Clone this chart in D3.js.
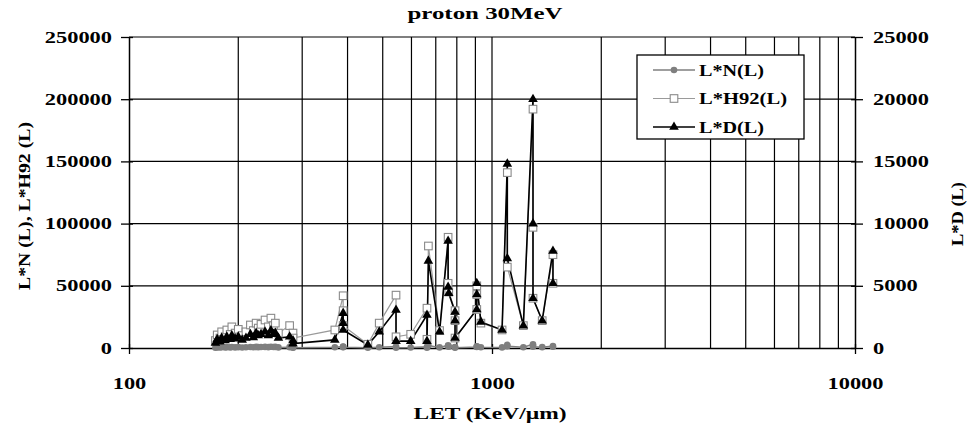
<!DOCTYPE html>
<html><head><meta charset="utf-8">
<script src="https://cdn.jsdelivr.net/npm/d3@7/dist/d3.min.js"></script>
<style>body{margin:0;background:#fff}svg text{font-family:"Liberation Serif",serif !important;font-weight:bold}</style>
</head><body><svg id="c" width="970" height="426"></svg>
<script>
const letVals = [173,175,178,180,184,186,190,192,196,200,205,210,216,220,224,227,231,237,242,246,250,253,258,277,283,283,369,389,389,389,455,489,544,544,597,662,662,668,717,757,757,760,791,791,791,908,908,908,932,1066,1102,1102,1220,1297,1297,1297,1375,1472,1472];
const nVals = [300,500,400,600,400,700,500,800,500,700,400,600,800,600,900,700,800,900,700,1000,800,900,500,700,500,300,600,1200,900,700,200,600,1200,300,400,900,300,2000,500,2200,1400,1100,800,600,300,800,1100,1300,600,500,2500,1500,600,3000,2000,1000,700,1500,1000];
const h92Vals = [6000,10500,8000,13000,9000,14500,11000,17000,12000,15000,10000,13000,18500,14000,20000,16000,19000,22500,17000,24000,18000,20000,12000,18000,12000,8000,14500,42000,30000,18000,3000,20000,42500,9000,11000,32000,7000,82000,14000,89000,52000,45000,30000,22000,8000,31000,43000,50000,20000,14500,141000,65000,18000,192000,97000,40000,22000,75000,52000];
const dVals = [400,700,500,800,600,900,700,1000,750,900,650,800,1100,850,1200,1000,1100,1300,1000,1400,1100,1200,800,900,600,350,650,2800,2000,1450,250,1300,3050,550,550,2650,550,7000,1300,8600,4900,4400,2900,2200,800,3100,4300,5200,2100,1450,14800,7200,1800,20000,10000,4000,2200,7800,5200];
const leftTicks = [0,50000,100000,150000,200000,250000];
const rightTicks = [0,5000,10000,15000,20000,25000];
const xTicks = [100,1000,10000];
const xGrid = [200,300,400,500,600,700,800,900,1000,2000,3000,4000,5000,6000,7000,8000,9000];
const legendLabels = ["L*N(L)","L*H92(L)","L*D(L)"];

const svg = d3.select("#c");
const L=129,R=855,T=37,B=348;
const x = d3.scaleLog().domain([100,10000]).range([L,R]);
const yL = d3.scaleLinear().domain([0,250000]).range([B,T]);
const yR = d3.scaleLinear().domain([0,25000]).range([B,T]);

function styleText(sel, size){
  sel.attr("font-size",size).attr("fill","#000")
     .style("font-family","'Liberation Serif', serif").style("font-weight","bold");
}
function stretch(sel, factor){
  sel.each(function(){
    const w = this.getComputedTextLength();
    d3.select(this).attr("textLength", w*factor).attr("lengthAdjust","spacingAndGlyphs");
  });
}
function fitTo(sel, len){
  sel.attr("textLength", len).attr("lengthAdjust","spacingAndGlyphs");
}

// gridlines
svg.append("g").selectAll("line").data(xGrid).join("line")
  .attr("x1",d=>x(d)).attr("x2",d=>x(d)).attr("y1",T).attr("y2",B)
  .attr("stroke","#000").attr("stroke-width",1.2);
svg.append("g").selectAll("line").data(leftTicks.filter(d=>d>0)).join("line")
  .attr("x1",L).attr("x2",R).attr("y1",d=>yL(d)).attr("y2",d=>yL(d))
  .attr("stroke","#000").attr("stroke-width",1.2);

// axes
const axL = svg.append("g").attr("transform",`translate(${L},0)`)
  .call(d3.axisLeft(yL).tickValues(leftTicks).tickFormat(d3.format("d")).tickSizeInner(8).tickSizeOuter(0).tickPadding(9));
axL.selectAll(".tick line").attr("x1",4);
const axR = svg.append("g").attr("transform",`translate(${R},0)`)
  .call(d3.axisRight(yR).tickValues(rightTicks).tickFormat(d3.format("d")).tickSizeInner(8).tickSizeOuter(0).tickPadding(10));
axR.selectAll(".tick line").attr("x1",-4);
const axB = svg.append("g").attr("transform",`translate(0,${B})`)
  .call(d3.axisBottom(x).tickValues(xTicks).tickFormat(d3.format("d")).tickSizeInner(6).tickSizeOuter(0).tickPadding(24));
axB.selectAll(".tick line").attr("y1",-4);
[axL,axR,axB].forEach(a=>{
  a.selectAll("path.domain").attr("stroke","#000").attr("stroke-width",1.5);
  a.selectAll(".tick line").attr("stroke","#000").attr("stroke-width",1.3);
  const t = a.selectAll("text");
  styleText(t,"16px");
  stretch(t,1.4);
});

// titles
const t1 = svg.append("text").attr("x",485).attr("y",19).attr("text-anchor","middle").text("proton 30MeV");
styleText(t1,"16px"); fitTo(t1,155);
const t2 = svg.append("text").attr("x",490).attr("y",419).attr("text-anchor","middle").text("LET (KeV/µm)");
styleText(t2,"17px"); fitTo(t2,153);
const t3 = svg.append("text").attr("transform","translate(30,206) rotate(-90)").attr("text-anchor","middle").text("L*N (L), L*H92 (L)");
styleText(t3,"17px"); fitTo(t3,168);
const t4 = svg.append("text").attr("transform","translate(963,214) rotate(-90)").attr("text-anchor","middle").text("L*D (L)");
styleText(t4,"17px"); fitTo(t4,64);

const idx = d3.range(letVals.length);
const tri = d3.symbol().type(d3.symbolTriangle).size(40);
const series = [
  {vals:nVals, sc:yL, stroke:"#7f7f7f", sw:1.5, mark:"circle"},
  {vals:h92Vals, sc:yL, stroke:"#9a9a9a", sw:1.2, mark:"square"},
  {vals:dVals, sc:yR, stroke:"#000", sw:1.6, mark:"tri"}
];
series.forEach(s=>{
  const line = d3.line().x(i=>x(letVals[i])).y(i=>s.sc(s.vals[i]));
  svg.append("path").datum(idx).attr("d",line).attr("fill","none").attr("stroke",s.stroke).attr("stroke-width",s.sw);
});
function drawMark(g, s, px, py){
  if(s.mark==="circle") g.append("circle").attr("cx",px).attr("cy",py).attr("r",3.3).attr("fill","#7f7f7f");
  else if(s.mark==="square") g.append("rect").attr("x",px-3.8).attr("y",py-3.8).attr("width",7.6).attr("height",7.6).attr("fill","#fff").attr("stroke","#8a8a8a").attr("stroke-width",1.1);
  else g.append("path").attr("d",tri).attr("transform",`translate(${px},${py})`).attr("fill","#000");
}
series.forEach(s=>{
  const g = svg.append("g");
  idx.forEach(i=>drawMark(g,s,x(letVals[i]),s.sc(s.vals[i])));
});

// legend
const lg = svg.append("g");
lg.append("rect").attr("x",637).attr("y",55).attr("width",167).attr("height",84).attr("fill","#fff").attr("stroke","#000").attr("stroke-width",1.3);
const legW = [65,88,65];
legendLabels.forEach((lab,k)=>{
  const yy = 70 + k*28.5;
  const s = series[k];
  lg.append("line").attr("x1",653).attr("x2",695).attr("y1",yy).attr("y2",yy).attr("stroke",s.stroke).attr("stroke-width",s.sw);
  drawMark(lg,s,674,yy);
  const tt = lg.append("text").attr("x",699).attr("y",yy+5.5).text(lab);
  styleText(tt,"17px"); fitTo(tt,legW[k]);
});
</script></body></html>
